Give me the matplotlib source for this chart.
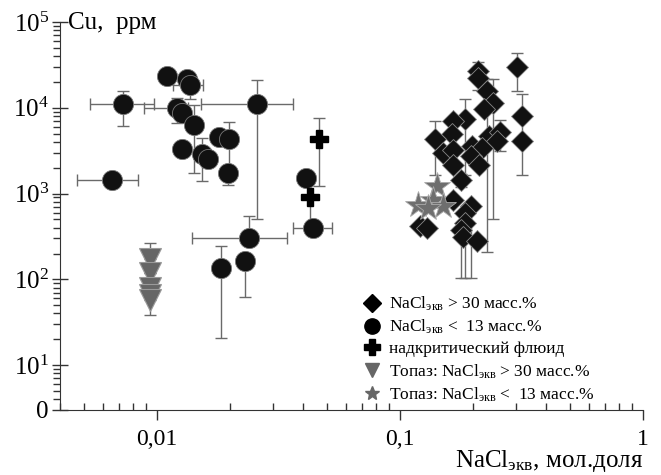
import numpy as np
import matplotlib
matplotlib.use("Agg")
import matplotlib.pyplot as plt
from matplotlib.ticker import FixedLocator, NullFormatter

plt.rcParams['font.family'] = 'serif'
plt.rcParams['font.serif'] = ['Liberation Serif', 'DejaVu Serif']
plt.rcParams['mathtext.fontset'] = 'custom'
plt.rcParams['mathtext.rm'] = 'Liberation Serif'
plt.rcParams['mathtext.it'] = 'Liberation Serif:italic'

# --- NaCl > 30 wt.% (diamonds)
dia_x = [0.302, 0.209, 0.209, 0.2275, 0.241, 0.222, 0.317, 0.318, 0.185, 0.1655,
         0.1645, 0.140, 0.2315, 0.258, 0.250, 0.1507, 0.1655, 0.1987, 0.2175, 0.1965,
         0.1655, 0.178, 0.2125, 0.1655, 0.1965, 0.185, 0.1208, 0.1289, 0.185, 0.179,
         0.182, 0.2075]
dia_y = [29700, 26900, 22100, 15500, 11340, 9735, 8070, 4055, 7390, 6930,
         4990, 4330, 4720, 5160, 4055, 2973, 3250, 3620, 3400, 2720,
         2170, 1455, 2170, 850, 711, 596, 417, 399, 456, 381,
         314, 279]
dia_ylo = [15500, 26900, 16200, 206, 512, 9735, 1633, 4055, 1633, 6930,
           4990, 1633, 4720, 3100, 4055, 2973, 3250, 3620, 3400, 2720,
           2170, 1200, 2170, 850, 103, 596, 417, 399, 103, 103,
           314, 279]
dia_yhi = [44000, 26900, 34500, 21700, 21700, 9735, 14530, 4055, 12600, 6930,
           4990, 6930, 4720, 7110, 4055, 2973, 3250, 3620, 3400, 2720,
           2170, 1700, 2170, 850, 711, 596, 417, 399, 456, 381,
           314, 279]

# --- NaCl < 13 wt.% (circles)
cir_x = [0.0110, 0.01328, 0.01367, 0.00724, 0.00653, 0.01208, 0.01267, 0.0142,
         0.01267, 0.0153, 0.0162, 0.0180, 0.0198, 0.0196, 0.0258, 0.0410,
         0.0439, 0.0239, 0.0230, 0.0183]
cir_y = [23500, 21700, 18500, 11100, 1455, 10000, 8750, 6340,
         3340, 2920, 2550, 4600, 4360, 1755, 11100, 1535,
         392, 307, 162, 134]
cir_xlo = [0.0110, 0.01328, 0.01167, 0.0053, 0.00469, 0.00884, 0.01267, 0.0142,
           0.01267, 0.0146, 0.0162, 0.0180, 0.0198, 0.0196, 0.0152, 0.0410,
           0.0362, 0.0139, 0.0230, 0.0183]
cir_xhi = [0.0110, 0.01328, 0.0155, 0.00972, 0.00836, 0.0135, 0.01267, 0.0142,
           0.01267, 0.0165, 0.0162, 0.0180, 0.0198, 0.0196, 0.0362, 0.0410,
           0.0525, 0.0343, 0.0230, 0.0183]
cir_ylo = [23500, 21700, 12730, 6180, 1455, 6700, 8750, 1760,
           3340, 1420, 2550, 4600, 1450, 1270, 512, 1535,
           392, 307, 61.6, 20.6]
cir_yhi = [23500, 21700, 21600, 15760, 1455, 13000, 8750, 10800,
           3340, 4490, 2550, 4600, 6880, 1755, 21200, 1535,
           392, 555, 162, 248]

# --- supercritical fluid (plus)
sc_x = [0.0464, 0.0426]
sc_y = [4360, 923]
sc_ylo = [1240, 392]
sc_yhi = [7650, 923]

# --- topaz, NaCl > 30 wt.% (triangles)
tri_x = [0.0094, 0.0094, 0.0094, 0.0094, 0.0094]
tri_y = [171, 118, 79, 65, 57]
tri_ylo = [171, 118, 79, 65, 38]
tri_yhi = [262, 118, 79, 65, 57]

# --- topaz, NaCl < 13 wt.% (stars)
star_x = [0.1417, 0.119, 0.137, 0.1507, 0.130]
star_y = [1216, 745, 850, 711, 680]

labels = [r'NaCl$_{\mathrm{экв}}$ > 30 масс.%',
          r'NaCl$_{\mathrm{экв}}$ <  13 масс.%',
          'надкритический флюид',
          r'Топаз: NaCl$_{\mathrm{экв}}$ > 30 масс.%',
          r'Топаз: NaCl$_{\mathrm{экв}}$ <  13 масс.%']

fig = plt.figure(figsize=(6.61, 4.75), dpi=100)
ax = fig.add_axes([60 / 661, 1 - 410 / 475, 583 / 661, 388 / 475])
ax.set_xscale('log')
ax.set_yscale('log')
ax.set_xlim(0.004, 1)
ax.set_ylim(3, 1e5)

ecol = '#6a6a6a'
ekw = dict(fmt='none', ecolor=ecol, elinewidth=1.0, capsize=4, capthick=1.0, zorder=1)


def bars(x, y, ylo, yhi, xlo=None, xhi=None):
    x = np.array(x); y = np.array(y)
    yerr = [y - np.array(ylo), np.array(yhi) - y]
    xerr = None
    if xlo is not None:
        xerr = [x - np.array(xlo), np.array(xhi) - x]
    ax.errorbar(x, y, yerr=yerr, xerr=xerr, **ekw)


bars(dia_x, dia_y, dia_ylo, dia_yhi)
bars(cir_x, cir_y, cir_ylo, cir_yhi, cir_xlo, cir_xhi)
bars(sc_x, sc_y, sc_ylo, sc_yhi)
bars(tri_x, tri_y, tri_ylo, tri_yhi)

ax.plot(tri_x, tri_y, 'v', ms=16, color='#666666', mec='#9a9a9a', mew=0.8, ls='none', zorder=3)
ax.plot(cir_x, cir_y, 'o', ms=14.5, color='#111111', mec='#777777', mew=0.6, ls='none', zorder=3)
ax.plot(dia_x, dia_y, 'D', ms=11, color='#111111', mec='#888888', mew=0.6, ls='none', zorder=3)
ax.plot(star_x, star_y, '*', ms=20, color='#6e6e6e', mec='#aaaaaa', mew=0.6, ls='none', zorder=4)
ax.plot(sc_x, sc_y, 'P', ms=13, color='black', mec='black', ls='none', zorder=4)

# legend
hd = [ax.plot([], [], 'D', ms=9, color='black', ls='none')[0],
      ax.plot([], [], 'o', ms=11, color='black', ls='none')[0],
      ax.plot([], [], 'P', ms=11, color='black', ls='none')[0],
      ax.plot([], [], 'v', ms=10, color='#666666', ls='none')[0],
      ax.plot([], [], '*', ms=10, color='#666666', ls='none')[0]]
ax.legend(hd, labels, loc='upper left', bbox_to_anchor=(355 / 661, 1 - 286 / 475),
          bbox_transform=fig.transFigure, frameon=False, fontsize=12.5,
          handlelength=1.0, handletextpad=0.45, labelspacing=0.28, borderpad=0)

for s in ['top', 'right']:
    ax.spines[s].set_visible(False)
ax.spines['left'].set_color('#333333')
ax.spines['bottom'].set_color('#333333')

ax.yaxis.set_major_locator(FixedLocator([3, 10, 100, 1e3, 1e4, 1e5]))
ax.set_yticklabels(['0', r'$10^1$', r'$10^2$', r'$10^3$', r'$10^4$', r'$10^5$'])
ax.yaxis.set_minor_locator(FixedLocator([v * 10 ** k for k in range(0, 5) for v in range(2, 10) if v * 10 ** k > 3]))
ax.yaxis.set_minor_formatter(NullFormatter())
ax.xaxis.set_major_locator(FixedLocator([0.01, 0.1, 1]))
ax.set_xticklabels(['0,01', '0,1', '1'])
ax.xaxis.set_minor_locator(FixedLocator([v * 10.0 ** k for k in (-3, -2, -1) for v in range(2, 10)
                                         if 0.004 <= v * 10.0 ** k < 1]))
ax.xaxis.set_minor_formatter(NullFormatter())
ax.tick_params(axis='y', which='major', direction='inout', length=12, width=1, labelsize=18, pad=2, color='#333333')
ax.tick_params(axis='y', which='minor', direction='out', length=5, width=1, color='#333333')
ax.tick_params(axis='x', which='major', direction='out', length=7, width=1, labelsize=17, pad=7, color='#333333')
ax.tick_params(axis='x', which='minor', direction='in', length=5, width=1, color='#333333')

fig.text(68 / 661, 1 - 23 / 475, 'Cu,  ррм', fontsize=18, va='center', ha='left')
fig.text(643 / 661, 1 - 461 / 475, r'NaCl$_{\mathrm{экв}}$, мол.доля', fontsize=18, va='center', ha='right')

fig.savefig('out.png', dpi=100)
